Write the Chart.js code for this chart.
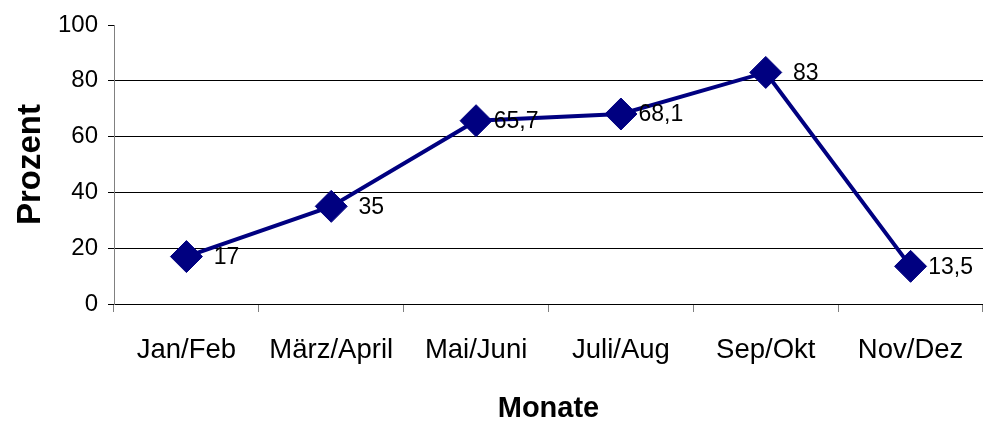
<!DOCTYPE html>
<html>
<head>
<meta charset="utf-8">
<script src="https://cdn.jsdelivr.net/npm/chart.js@4/dist/chart.umd.min.js"></script>
<style>
  html, body { margin: 0; padding: 0; background: #fff; overflow: hidden; }
  #wrap { width: 983px; height: 423px; }
  canvas { display: block; }
</style>
</head>
<body>
<div id="wrap"><canvas id="chart" width="983" height="423"></canvas></div>
<script>
// Daten aus dem Diagramm
const monate = ['Jan/Feb', 'März/April', 'Mai/Juni', 'Juli/Aug', 'Sep/Okt', 'Nov/Dez'];
const prozent = [17, 35, 65.7, 68.1, 83, 13.5];
const yTicks = [0, 20, 40, 60, 80, 100];

const navy = '#000080';
const fontFamily = '"Liberation Sans", Arial, sans-serif';

// Werte rechts neben den Punkten, mit Komma als Dezimaltrennzeichen
const valueLabels = {
    id: 'valueLabels',
    afterDatasetsDraw(chart) {
        const ctx = chart.ctx;
        const meta = chart.getDatasetMeta(0);
        ctx.save();
        ctx.font = '23px ' + fontFamily;
        ctx.fillStyle = '#000';
        ctx.textAlign = 'center';
        ctx.textBaseline = 'middle';
        meta.data.forEach((pt, i) => {
            const txt = String(prozent[i]).replace('.', ',');
            ctx.fillText(txt, pt.x + 40, pt.y + 1);
        });
        ctx.restore();
    }
};

new Chart(document.getElementById('chart'), {
    type: 'line',
    data: {
        labels: monate,
        datasets: [{
            data: prozent,
            borderColor: navy,
            backgroundColor: navy,
            borderWidth: 4,
            pointStyle: 'rectRot',
            pointRadius: 16,
            pointHoverRadius: 16,
            pointBorderWidth: 1,
            pointBorderColor: navy,
            pointBackgroundColor: navy,
            tension: 0
        }]
    },
    options: {
        responsive: false,
        animation: false,
        layout: {
            autoPadding: false,
            padding: { top: 25, right: 0, left: 0, bottom: 0 }
        },
        plugins: {
            legend: { display: false },
            tooltip: { enabled: false }
        },
        scales: {
            x: {
                offset: true,
                grid: {
                    offset: true,
                    drawOnChartArea: false,
                    color: '#808080',
                    tickLength: 8
                },
                border: { color: '#000', width: 1 },
                ticks: {
                    color: '#000',
                    padding: 22,
                    maxRotation: 0,
                    font: { family: fontFamily, size: 27.5 }
                },
                title: {
                    display: true,
                    text: 'Monate',
                    color: '#000',
                    padding: { top: 0, bottom: 0 },
                    font: { family: fontFamily, size: 29, weight: 'bold', lineHeight: 1 }
                },
                afterFit(scale) {
                    scale.height = 119;
                    scale.paddingLeft = 0;
                    scale.paddingRight = 0;
                }
            },
            y: {
                min: 0,
                max: 100,
                afterBuildTicks(scale) { scale.ticks = yTicks.map(v => ({ value: v })); },
                grid: {
                    color: c => (c.tick && c.tick.value === 100) ? 'rgba(0,0,0,0)' : '#000',
                    tickColor: '#000',
                    tickLength: 6,
                    lineWidth: 1
                },
                border: { color: '#808080', width: 1 },
                ticks: {
                    color: '#000',
                    padding: 10,
                    font: { family: fontFamily, size: 24 }
                },
                title: {
                    display: true,
                    text: 'Prozent',
                    color: '#000',
                    padding: { top: 11, bottom: 0 },
                    font: { family: fontFamily, size: 33, weight: 'bold' }
                },
                afterFit(scale) {
                    scale.width = 114;
                    scale.paddingTop = 0;
                    scale.paddingBottom = 0;
                }
            }
        }
    },
    plugins: [valueLabels]
});
</script>
</body>
</html>
